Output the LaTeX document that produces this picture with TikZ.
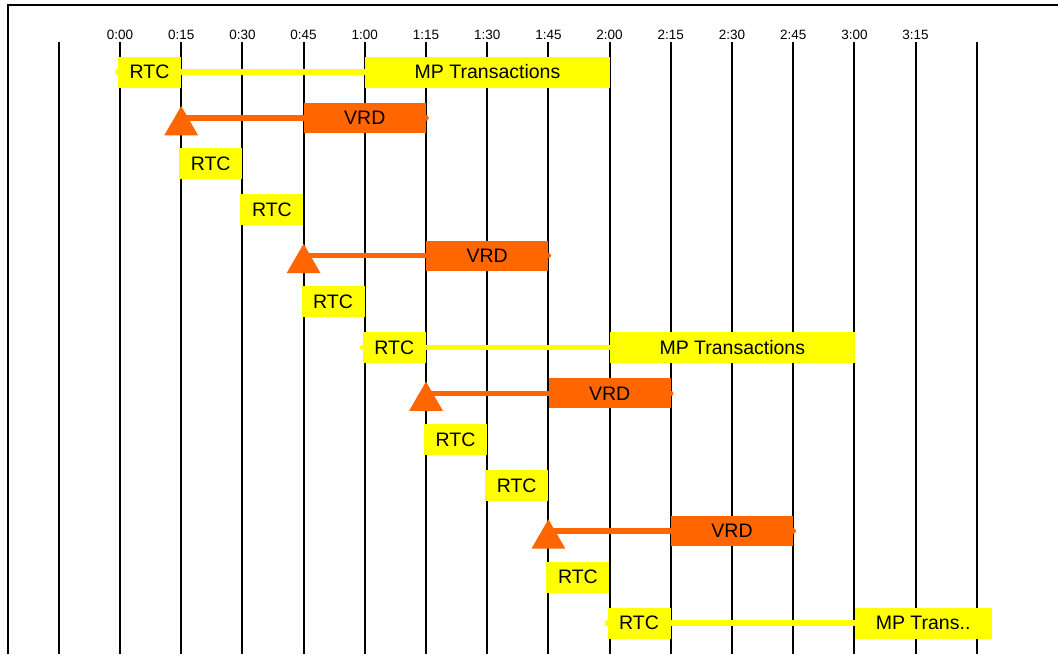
\documentclass[tikz,border=0pt]{standalone}
\usepackage{fontspec}
\setmainfont{Liberation Sans}
\usetikzlibrary{shapes.geometric,backgrounds}
\pgfdeclarelayer{conn}
\pgfsetlayers{background,conn,main}
\definecolor{ylw}{RGB}{255,255,0}
\definecolor{org}{RGB}{255,102,0}
\newcommand\gx[1]{120+61.2*(#1)}
\newcommand\ry[1]{72+45.92*(#1)}
\tikzset{
  grid/.style={line width=2pt,black},
  frame/.style={line width=2.6pt,black},
  tick/.style={font=\fontsize{13.5}{15}\selectfont,inner sep=0pt},
  rtc/.style={fill=ylw,minimum width=63pt,minimum height=31pt,inner sep=0pt,anchor=east,font=\fontsize{19.5}{22}\selectfont},
  mpt/.style={fill=ylw,minimum height=31pt,inner sep=0pt,anchor=west,font=\fontsize{19.5}{22}\selectfont},
  vrd/.style={fill=org,minimum width=122pt,minimum height=30pt,inner sep=0pt,anchor=west,font=\fontsize{19.5}{22}\selectfont},
  tri/.style={regular polygon,regular polygon sides=3,minimum size=39pt,inner sep=0pt,fill=org},
  yline/.style={draw=ylw,line width=5.5pt,line cap=round},
  oline/.style={draw=org,line width=5.5pt,line cap=round},
}
\begin{document}
\begin{tikzpicture}[x=1pt,y=-1pt]
\useasboundingbox (0,0) rectangle (1058,654);
\draw[frame] (8,654) -- (8,5) -- (1058,5);
\begin{pgfonlayer}{background}
\foreach \t in {-1,...,14} {
  \draw[grid] ({\gx{\t}},42) -- ({\gx{\t}},654);
}
\foreach \t/\lab in {0/0:00,1/0:15,2/0:30,3/0:45,4/1:00,5/1:15,6/1:30,7/1:45,8/2:00,9/2:15,10/2:30,11/2:45,12/3:00,13/3:15} {
  \node[tick] (tk\t) at ({\gx{\t}},34.5) {\lab};
}
\end{pgfonlayer}
% row 0
\node[rtc] (r0) at ({\gx{1}},{\ry{0}}) {RTC};
\node[mpt,minimum width=245pt] (m0) at ({\gx{4}},{\ry{0}}) {MP Transactions};
% row 1
\node[vrd] (v1) at ({\gx{3}},{\ry{1}}) {VRD};
\coordinate (a1) at ({\gx{1}},{\ry{1}});
\node[tri] (t1) at ({\gx{1}},{\ry{1}+7.6}) {};
% rows 2,3
\node[rtc] (r2) at ({\gx{2}},{\ry{2}}) {RTC};
\node[rtc] (r3) at ({\gx{3}},{\ry{3}}) {RTC};
% row 4
\node[vrd] (v4) at ({\gx{5}},{\ry{4}}) {VRD};
\coordinate (a4) at ({\gx{3}},{\ry{4}});
\node[tri] (t4) at ({\gx{3}},{\ry{4}+7.6}) {};
% row 5
\node[rtc] (r5) at ({\gx{4}},{\ry{5}}) {RTC};
% row 6
\node[rtc] (r6) at ({\gx{5}},{\ry{6}}) {RTC};
\node[mpt,minimum width=245pt] (m6) at ({\gx{8}},{\ry{6}}) {MP Transactions};
% row 7
\node[vrd] (v7) at ({\gx{7}},{\ry{7}}) {VRD};
\coordinate (a7) at ({\gx{5}},{\ry{7}});
\node[tri] (t7) at ({\gx{5}},{\ry{7}+7.6}) {};
% rows 8,9
\node[rtc] (r8) at ({\gx{6}},{\ry{8}}) {RTC};
\node[rtc] (r9) at ({\gx{7}},{\ry{9}}) {RTC};
% row 10
\node[vrd] (v10) at ({\gx{9}},{\ry{10}}) {VRD};
\coordinate (a10) at ({\gx{7}},{\ry{10}});
\node[tri] (t10) at ({\gx{7}},{\ry{10}+7.6}) {};
% row 11
\node[rtc] (r11) at ({\gx{8}},{\ry{11}}) {RTC};
% row 12
\node[rtc] (r12) at ({\gx{9}},{\ry{12}}) {RTC};
\node[mpt,minimum width=137pt] (m12) at ({\gx{12}},{\ry{12}}) {MP Trans..};
\begin{pgfonlayer}{conn}
\draw[yline] (r0.west) -- (m0.west);
\draw[yline] (r6.west) -- (m6.west);
\draw[yline] (r12.west) -- (m12.west);
\draw[oline] (v1.east) -- (a1);
\draw[oline] (v4.east) -- (a4);
\draw[oline] (v7.east) -- (a7);
\draw[oline] (v10.east) -- (a10);
\end{pgfonlayer}
\end{tikzpicture}
\end{document}
